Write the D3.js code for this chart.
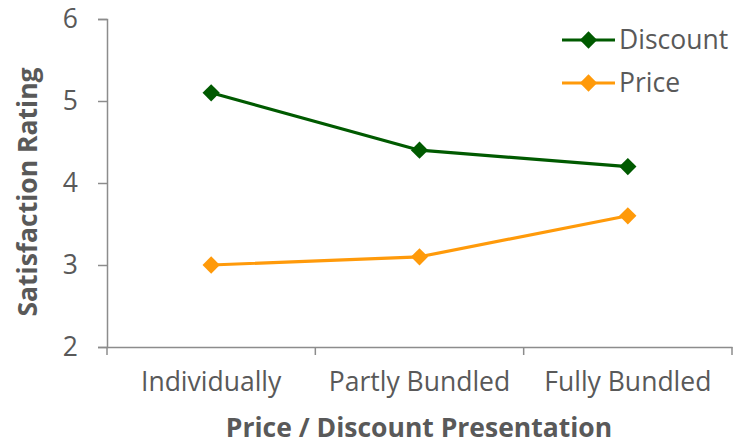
<!DOCTYPE html>
<html>
<head>
<meta charset="utf-8">
<script src="https://cdn.jsdelivr.net/npm/d3@7"></script>
<style>
  html, body { margin: 0; padding: 0; background: #fff; }
  svg { display: block; font-family: "Open Sans", sans-serif; }
</style>
</head>
<body>
<svg id="chart" width="733" height="442"></svg>
<script>
// Satisfaction ratings by presentation format
const categories = ["Individually", "Partly Bundled", "Fully Bundled"];
const discountValues = [5.1, 4.4, 4.2];
const priceValues = [3.0, 3.1, 3.6];
const yTicks = [2, 3, 4, 5, 6];
const seriesNames = ["Discount", "Price"];
const seriesColors = ["#005a00", "#ff9a0a"];

const series = [
  { name: seriesNames[0], values: discountValues, color: seriesColors[0] },
  { name: seriesNames[1], values: priceValues, color: seriesColors[1] }
];

const svg = d3.select("#chart");
const margin = { left: 107, right: 0, top: 19, bottom: 95 };
const W = 733, H = 442;
const fs = 26.5;

const x = d3.scaleBand().domain(categories).range([margin.left, W - 1]);
const y = d3.scaleLinear().domain([2, 6]).range([H - margin.bottom, margin.top]);

const axisColor = "#8c8c8c";
const textColor = "#595959";

// Y axis
const yAxis = svg.append("g")
  .attr("transform", `translate(${margin.left},0)`)
  .call(d3.axisLeft(y).tickValues(yTicks).tickSize(9).tickPadding(20).tickFormat(d3.format("d")));
yAxis.select(".domain").attr("stroke", axisColor).attr("stroke-width", 1.5);
yAxis.selectAll(".tick line").attr("stroke", axisColor).attr("stroke-width", 1.5);
yAxis.selectAll(".tick text").attr("fill", textColor).attr("font-size", fs)
  .attr("font-family", "Open Sans");

// X axis with ticks at the band boundaries
const xAxis = svg.append("g")
  .attr("transform", `translate(0,${y(2)})`)
  .call(d3.axisBottom(x).tickSize(0).tickPadding(25));
xAxis.select(".domain").attr("stroke", axisColor).attr("stroke-width", 1.5);
xAxis.selectAll(".tick text").attr("fill", textColor).attr("font-size", fs)
  .attr("font-family", "Open Sans");
const bounds = categories.map(c => x(c)).concat([x(categories[categories.length - 1]) + x.bandwidth()]);
xAxis.selectAll(".boundary").data(bounds).enter().append("line")
  .attr("x1", d => d).attr("x2", d => d).attr("y1", 0).attr("y2", 8)
  .attr("stroke", axisColor).attr("stroke-width", 1.5);

// Axis titles
svg.append("text")
  .attr("x", (margin.left + W) / 2 - 1).attr("y", 437)
  .attr("text-anchor", "middle").attr("font-weight", "bold").attr("font-size", fs)
  .attr("fill", textColor).text("Price / Discount Presentation");
svg.append("text")
  .attr("transform", `translate(37,192) rotate(-90)`)
  .attr("text-anchor", "middle").attr("font-weight", "bold").attr("font-size", fs)
  .attr("fill", textColor).text("Satisfaction Rating");

// Lines and diamond markers
const line = d3.line().x((d, i) => x(categories[i]) + x.bandwidth() / 2).y(d => y(d));
const diamond = d3.symbol().type(d3.symbolDiamond2).size(190);

series.forEach(s => {
  svg.append("path").datum(s.values)
    .attr("d", line).attr("fill", "none")
    .attr("stroke", s.color).attr("stroke-width", 3.2).attr("stroke-linejoin", "round");
  svg.selectAll(null).data(s.values).enter().append("path")
    .attr("d", diamond)
    .attr("transform", (d, i) => `translate(${x(categories[i]) + x.bandwidth() / 2},${y(d)})`)
    .attr("fill", s.color);
});

// Legend
const legend = svg.append("g");
series.forEach((s, i) => {
  const ly = 40 + i * 43;
  legend.append("line").attr("x1", 562).attr("x2", 615).attr("y1", ly).attr("y2", ly)
    .attr("stroke", s.color).attr("stroke-width", 3.2);
  legend.append("path").attr("d", diamond)
    .attr("transform", `translate(588.5,${ly})`).attr("fill", s.color);
  legend.append("text").attr("x", 619).attr("y", ly).attr("dy", "0.35em")
    .attr("font-size", fs).attr("fill", textColor).text(s.name);
});
</script>
</body>
</html>
